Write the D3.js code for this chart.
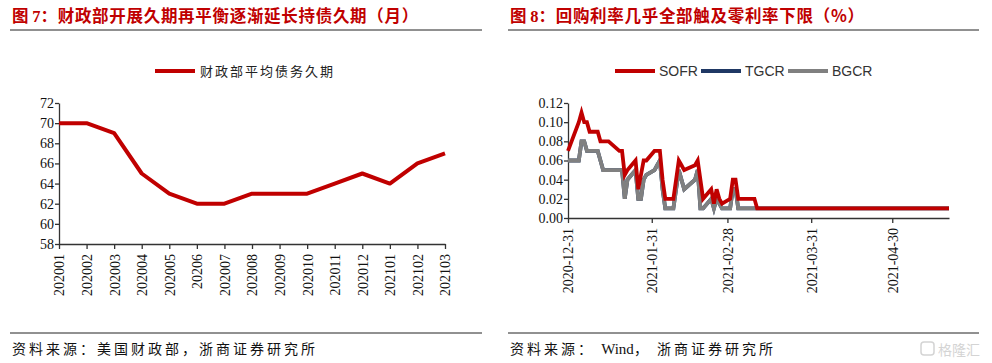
<!DOCTYPE html>
<html>
<head>
<meta charset="utf-8">
<script src="https://cdn.jsdelivr.net/npm/d3@7"></script>
<style>
  body { margin: 0; background: #fff; }
  svg { display: block; }
</style>
</head>
<body>
<svg id="chart" width="992" height="363"></svg>
<script>
// left chart: treasury average debt duration (months)
const months = ["202001", "202002", "202003", "202004", "202005", "20206", "202007", "202008",
    "202009", "202010", "202011", "202012", "202101", "202102", "202103"];
const duration = [70, 70, 69, 65, 63, 62, 62, 63, 63, 63, 64, 65, 64, 66, 67];
const durationTicks = [58, 60, 62, 64, 66, 68, 70, 72];

// right chart: repo rates (%)
const repoDates = ["2020-12-31", "2021-01-04", "2021-01-05", "2021-01-06", "2021-01-07", "2021-01-08",
    "2021-01-11", "2021-01-12", "2021-01-13", "2021-01-14", "2021-01-15", "2021-01-19", "2021-01-20",
    "2021-01-21", "2021-01-22", "2021-01-25", "2021-01-26", "2021-01-27", "2021-01-28", "2021-01-29",
    "2021-02-01", "2021-02-02", "2021-02-03", "2021-02-04", "2021-02-05", "2021-02-08", "2021-02-09",
    "2021-02-10", "2021-02-11", "2021-02-12", "2021-02-16", "2021-02-17", "2021-02-18", "2021-02-19",
    "2021-02-22", "2021-02-23", "2021-02-24", "2021-02-25", "2021-02-26", "2021-03-01", "2021-03-02",
    "2021-03-03", "2021-03-04", "2021-03-05", "2021-03-08", "2021-03-09", "2021-03-10", "2021-03-11",
    "2021-03-12", "2021-05-21"];
const sofr = [0.07, 0.10, 0.11, 0.10, 0.10, 0.09, 0.09, 0.08, 0.08, 0.08, 0.08, 0.07, 0.07,
    0.045, 0.05, 0.06, 0.03, 0.045, 0.06, 0.06, 0.07, 0.07, 0.07, 0.04, 0.02, 0.02, 0.04,
    0.06, 0.055, 0.05, 0.055, 0.06, 0.04, 0.02, 0.03, 0.015, 0.03, 0.02, 0.015, 0.02, 0.04,
    0.04, 0.02, 0.02, 0.02, 0.02, 0.02, 0.01, 0.01, 0.01];
const tgcr = [0.06, 0.06, 0.08, 0.08, 0.07, 0.07, 0.07, 0.06, 0.05, 0.05, 0.05, 0.05, 0.05,
    0.02, 0.04, 0.05, 0.02, 0.02, 0.04, 0.045, 0.05, 0.055, 0.06, 0.03, 0.01, 0.01, 0.03,
    0.05, 0.04, 0.03, 0.04, 0.05, 0.01, 0.01, 0.02, 0.01, 0.02, 0.015, 0.01, 0.01, 0.03,
    0.03, 0.01, 0.01, 0.01, 0.01, 0.01, 0.01, 0.01, 0.01];
const bgcr = [0.06, 0.06, 0.08, 0.08, 0.07, 0.07, 0.07, 0.06, 0.05, 0.05, 0.05, 0.05, 0.05,
    0.02, 0.04, 0.05, 0.02, 0.02, 0.04, 0.045, 0.05, 0.055, 0.06, 0.03, 0.01, 0.01, 0.03,
    0.05, 0.04, 0.03, 0.04, 0.05, 0.01, 0.01, 0.02, 0.01, 0.02, 0.015, 0.01, 0.01, 0.03,
    0.03, 0.01, 0.01, 0.01, 0.01, 0.01, 0.01, 0.01, 0.01];
const repoTickDates = ["2020-12-31", "2021-01-31", "2021-02-28", "2021-03-31", "2021-04-30"];
const repoYTicks = [0, 0.02, 0.04, 0.06, 0.08, 0.10, 0.12];

const RED = "#C00000", NAVY = "#1F3864", GRAY = "#808080";
const serif = "'Times New Roman', 'Liberation Serif', serif";
const cjk = "'Noto Sans CJK SC', sans-serif";

const svg = d3.select("#chart");
const parse = d3.timeParse("%Y-%m-%d");

// titles, rules and sources for both panels
function panelFrame(x0, x1, num, title, sourceParts) {
    const t = svg.append("text")
        .attr("x", x0 + 2).attr("y", 22)
        .attr("font-family", cjk).attr("font-weight", "bold")
        .attr("font-size", "16.5px").attr("fill", RED);
    t.append("tspan").text("图 ");
    t.append("tspan").attr("font-family", serif).text(num);
    t.append("tspan").attr("letter-spacing", "0.7px").text(title);
    [30, 333].forEach(y => svg.append("line")
        .attr("x1", x0).attr("x2", x1).attr("y1", y).attr("y2", y)
        .attr("stroke", "#222").attr("stroke-width", 1));
    const s = svg.append("text")
        .attr("x", x0 + 2).attr("y", 354)
        .attr("font-size", "14px").attr("fill", "#111");
    sourceParts.forEach(([txt, latin]) => s.append("tspan")
        .attr("font-family", latin ? serif : cjk)
        .attr("font-size", latin ? "15px" : "14px")
        .attr("letter-spacing", latin ? "0px" : "3px")
        .text(txt));
}
panelFrame(10, 482, "7", "：财政部开展久期再平衡逐渐延长持债久期（月）",
    [["资料来源：美国财政部，浙商证券研究所", false]]);
panelFrame(508, 979, "8", "：回购利率几乎全部触及零利率下限（%）",
    [["资料来源： ", false], ["Wind", true], ["， 浙商证券研究所", false]]);

function styleAxis(g) {
    g.selectAll("path, line").attr("stroke", "#333").attr("stroke-width", 1.3);
    g.selectAll("text").attr("font-family", serif).attr("font-size", "14px").attr("fill", "#111");
}
function rotateLabels(g) {
    g.selectAll(".tick text")
        .attr("transform", "rotate(-90)")
        .attr("x", -10).attr("y", 0).attr("dy", "0.35em")
        .attr("text-anchor", "end");
}

// ---- left chart ----
const xL = d3.scalePoint().domain(months).range([59, 445]);
const yL = d3.scaleLinear().domain([58, 72]).range([244, 103]);

svg.append("g").attr("transform", "translate(59,0)")
    .call(d3.axisLeft(yL).tickValues(durationTicks).tickSize(4).tickSizeOuter(0))
    .call(styleAxis)
    .call(g => g.selectAll("text").attr("x", -5));
svg.append("g").attr("transform", "translate(0,244)")
    .call(d3.axisBottom(xL).tickSize(5).tickSizeOuter(0))
    .call(styleAxis).call(rotateLabels);

svg.append("path")
    .datum(duration)
    .attr("fill", "none").attr("stroke", RED).attr("stroke-width", 4)
    .attr("stroke-linejoin", "round")
    .attr("d", d3.line().x((d, i) => xL(months[i])).y(d => yL(d)));

svg.append("line").attr("x1", 155).attr("x2", 195).attr("y1", 71).attr("y2", 71)
    .attr("stroke", RED).attr("stroke-width", 4);
svg.append("text").attr("x", 200).attr("y", 76)
    .attr("font-family", cjk).attr("font-size", "13px").attr("letter-spacing", "2px")
    .attr("fill", "#222").text("财政部平均债务久期");

// ---- right chart ----
const xR = d3.scaleTime().domain([parse("2020-12-31"), parse("2021-05-21")]).range([568, 949]);
const yR = d3.scaleLinear().domain([0, 0.12]).range([218, 103]);

svg.append("g").attr("transform", "translate(568,0)")
    .call(d3.axisLeft(yR).tickValues(repoYTicks).tickFormat(d3.format(".2f")).tickSize(4).tickSizeOuter(0))
    .call(styleAxis)
    .call(g => g.selectAll("text").attr("x", -5));

const repoLine = vals => d3.line()
    .x((d, i) => xR(parse(repoDates[i])))
    .y(d => yR(d))(vals);

[[tgcr, NAVY], [bgcr, GRAY], [sofr, RED]].forEach(([vals, color]) => {
    svg.append("path")
        .attr("fill", "none").attr("stroke", color).attr("stroke-width", 3.8)
        .attr("d", repoLine(vals));
});

svg.append("g").attr("transform", "translate(0,218)")
    .call(d3.axisBottom(xR).tickValues(repoTickDates.map(parse))
        .tickFormat(d3.timeFormat("%Y-%m-%d")).tickSize(5).tickSizeOuter(0))
    .call(styleAxis).call(rotateLabels);

const legend = [["SOFR", RED, 615], ["TGCR", NAVY, 701], ["BGCR", GRAY, 788]];
legend.forEach(([name, color, x]) => {
    svg.append("line").attr("x1", x).attr("x2", x + 40).attr("y1", 71).attr("y2", 71)
        .attr("stroke", color).attr("stroke-width", 4);
    svg.append("text").attr("x", x + 44).attr("y", 76)
        .attr("font-family", "'Liberation Sans', Arial, sans-serif").attr("font-size", "14px")
        .attr("fill", "#333").text(name);
});

// watermark
svg.append("rect").attr("x", 921).attr("y", 342).attr("width", 13).attr("height", 13)
    .attr("rx", 3).attr("fill", "none").attr("stroke", "#d4d4d4").attr("stroke-width", 1.5);
svg.append("text").attr("x", 938).attr("y", 355)
    .attr("font-family", cjk).attr("font-size", "14px").attr("fill", "#d4d4d4")
    .text("格隆汇");
</script>
</body>
</html>
